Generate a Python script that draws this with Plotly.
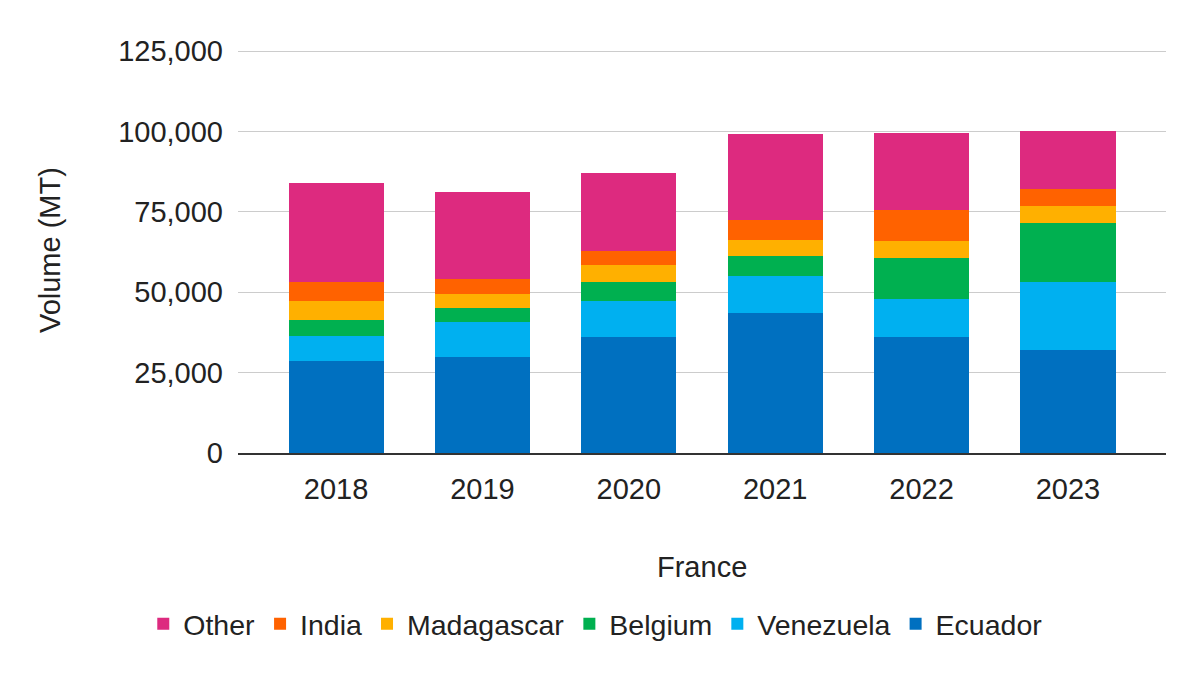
import plotly.graph_objects as go

years = ["2018", "2019", "2020", "2021", "2022", "2023"]
ecuador = [28700, 30000, 36200, 43600, 36200, 32200]
venezuela = [7800, 10900, 11200, 11500, 11700, 21100]
belgium = [5000, 4300, 5900, 6200, 12800, 18400]
madagascar = [5900, 4400, 5300, 5000, 5300, 5000]
india = [5900, 4600, 4400, 6300, 9600, 5300]
other = [30800, 27100, 24200, 26600, 24000, 18200]

series = [
    ("Ecuador", ecuador, "#0070C0"),
    ("Venezuela", venezuela, "#00B0F0"),
    ("Belgium", belgium, "#00B050"),
    ("Madagascar", madagascar, "#FFB000"),
    ("India", india, "#FF6200"),
    ("Other", other, "#DD2A7F"),
]

font_family = "Liberation Sans, Arial, sans-serif"
text_color = "#222222"

fig = go.Figure()
for name, vals, color in series:
    fig.add_trace(go.Bar(x=years, y=vals, name=name, marker_color=color,
                         marker_line_width=0))

fig.update_layout(
    barmode="stack",
    bargap=0.35,
    width=1200, height=675,
    autosize=False,
    margin=dict(l=230, r=42, t=40, b=230, autoexpand=False),
    plot_bgcolor="white", paper_bgcolor="white",
    font=dict(family=font_family, size=29, color=text_color),
    showlegend=True,
    legend=dict(orientation="h", traceorder="reversed", xref="paper",
                x=0.385, xanchor="center", y=-0.423, yanchor="middle",
                font=dict(size=28.5), itemwidth=30),
    xaxis=dict(range=[-0.67, 5.67], showgrid=False, ticks="", tickangle=0,
               automargin=False,
               showline=True, linecolor="#333333", linewidth=2,
               tickfont=dict(size=29), ticklabelstandoff=9),
    yaxis=dict(range=[0, 126000], tickvals=[0, 25000, 50000, 75000, 100000, 125000],
               tickformat=",", showgrid=True, gridcolor="#CCCCCC", gridwidth=1,
               automargin=False,
               zeroline=False, showline=False, ticks="",
               tickfont=dict(size=29), ticklabelstandoff=14),
    annotations=[
        dict(text="France", xref="paper", yref="paper", x=0.5, y=-0.281,
             xanchor="center", yanchor="middle", showarrow=False,
             font=dict(size=29, color=text_color)),
        dict(text="Volume (MT)", xref="paper", yref="paper", x=-0.203, y=0.5,
             xanchor="center", yanchor="middle", showarrow=False, textangle=-90,
             font=dict(size=29, color=text_color)),
    ],
)

fig.write_html("out.html")
